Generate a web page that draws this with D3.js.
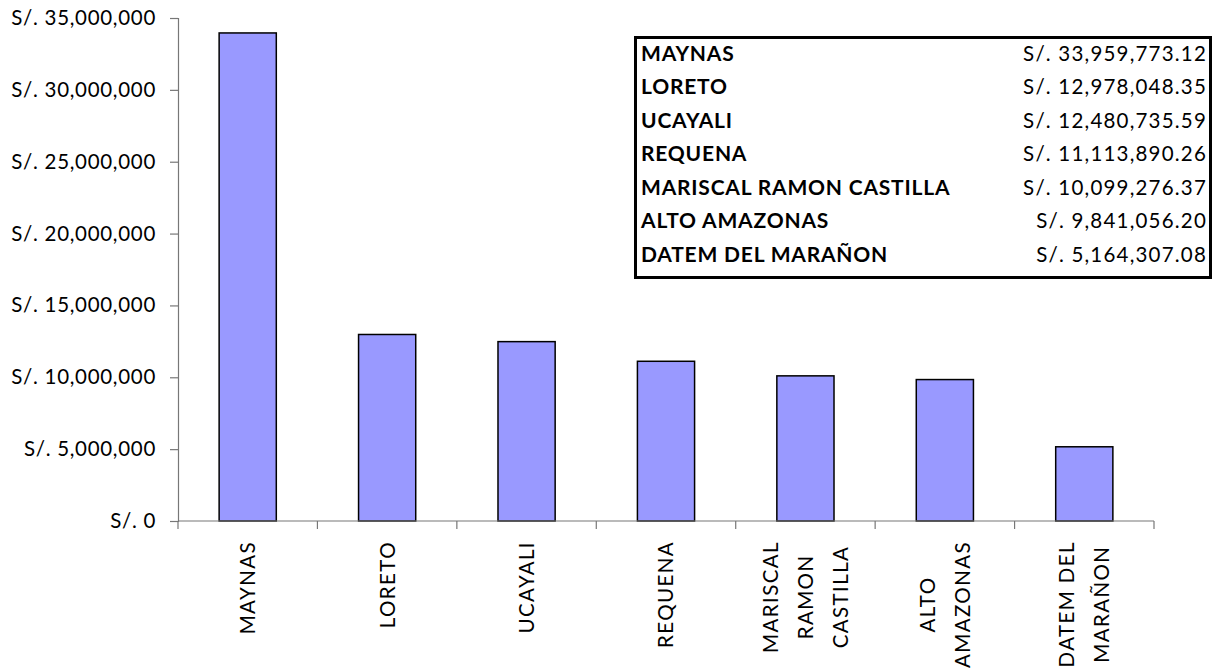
<!DOCTYPE html>
<html>
<head>
<meta charset="utf-8">
<script src="https://cdn.jsdelivr.net/npm/d3@7"></script>
<style>
  body { margin: 0; background: #fff; }
  svg { display: block; }
  text { font-family: Lato, "Open Sans", sans-serif; fill: #000; }
</style>
</head>
<body>
<svg id="chart" width="1216" height="672"></svg>
<script>
const categories = ["MAYNAS", "LORETO", "UCAYALI", "REQUENA", "MARISCAL RAMON CASTILLA", "ALTO AMAZONAS", "DATEM DEL MARAÑON"];
const axisLabelLines = [["MAYNAS"], ["LORETO"], ["UCAYALI"], ["REQUENA"], ["MARISCAL", "RAMON", "CASTILLA"], ["ALTO", "AMAZONAS"], ["DATEM DEL", "MARAÑON"]];
const values = [33959773.12, 12978048.35, 12480735.59, 11113890.26, 10099276.37, 9841056.20, 5164307.08];
const yTicks = [0, 5000000, 10000000, 15000000, 20000000, 25000000, 30000000, 35000000];

const svg = d3.select("#chart");
const mLeft = 178, mRight = 1154, mTop = 18, mBottom = 521;

const x = d3.scaleBand().domain(categories).range([mLeft, mRight]).paddingInner(0.59).paddingOuter(0.295);
const y = d3.scaleLinear().domain([0, 35000000]).range([mBottom, mTop]);
const step = x.step();

const fmtAxis = v => "S/. " + d3.format(",")(v);
const fmtVal = v => "S/. " + d3.format(",.2f")(v);

// bars
svg.append("g").selectAll("rect").data(values).join("rect")
  .attr("x", (d, i) => x(categories[i]))
  .attr("y", d => y(d))
  .attr("width", x.bandwidth())
  .attr("height", d => y(0) - y(d))
  .attr("fill", "#9999FF")
  .attr("stroke", "#000")
  .attr("stroke-width", 1.5);

// y axis
const yAxis = svg.append("g").attr("transform", `translate(${mLeft},0)`)
  .call(d3.axisLeft(y).tickValues(yTicks).tickFormat(fmtAxis).tickSize(8).tickPadding(14));
yAxis.select(".domain").attr("stroke", "#777").attr("stroke-width", 1.2);
yAxis.selectAll(".tick line").attr("stroke", "#777").attr("stroke-width", 1.2);
yAxis.selectAll(".tick text").attr("font-size", 20.5).attr("letter-spacing", 0.7)
  .attr("font-family", "Lato").attr("fill", "#000");

// x axis line and boundary ticks
const xg = svg.append("g");
xg.append("line").attr("x1", mLeft).attr("x2", mRight).attr("y1", y(0)).attr("y2", y(0))
  .attr("stroke", "#777").attr("stroke-width", 1.2);
xg.selectAll("line.tk").data(d3.range(categories.length + 1)).join("line")
  .attr("class", "tk")
  .attr("x1", i => mLeft + i * step).attr("x2", i => mLeft + i * step)
  .attr("y1", y(0)).attr("y2", y(0) + 8)
  .attr("stroke", "#777").attr("stroke-width", 1.2);

// rotated category labels
const lineGap = 35;
axisLabelLines.forEach((lines, i) => {
  const cx = x(categories[i]) + x.bandwidth() / 2;
  const g = xg.append("g");
  const texts = lines.map((ln, j) => {
    const off = (j - (lines.length - 1) / 2) * lineGap;
    return g.append("text")
      .attr("font-size", 20.5).attr("letter-spacing", 1.4)
      .attr("text-anchor", "middle")
      .attr("dy", "0.36em")
      .text(ln)
      .datum(off);
  });
  const maxLen = d3.max(texts, t => t.node().getComputedTextLength());
  const cy = 541 + maxLen / 2;
  texts.forEach(t => {
    const off = t.datum();
    t.attr("transform", `translate(${cx + off},${cy}) rotate(-90)`);
  });
});

// data table box
const tb = svg.append("g");
tb.append("rect").attr("x", 635.5).attr("y", 37.5).attr("width", 575).attr("height", 240)
  .attr("fill", "#fff").attr("stroke", "#000").attr("stroke-width", 3);
const rowH = 33.5;
categories.forEach((c, i) => {
  tb.append("text").attr("x", 641).attr("y", 60.5 + i * rowH)
    .attr("font-size", 21).attr("font-weight", "bold").attr("letter-spacing", 0.8).text(c);
  tb.append("text").attr("x", 1207).attr("y", 60.5 + i * rowH)
    .attr("font-size", 20.5).attr("letter-spacing", 1.2).attr("text-anchor", "end").text(fmtVal(values[i]));
});
</script>
</body>
</html>
